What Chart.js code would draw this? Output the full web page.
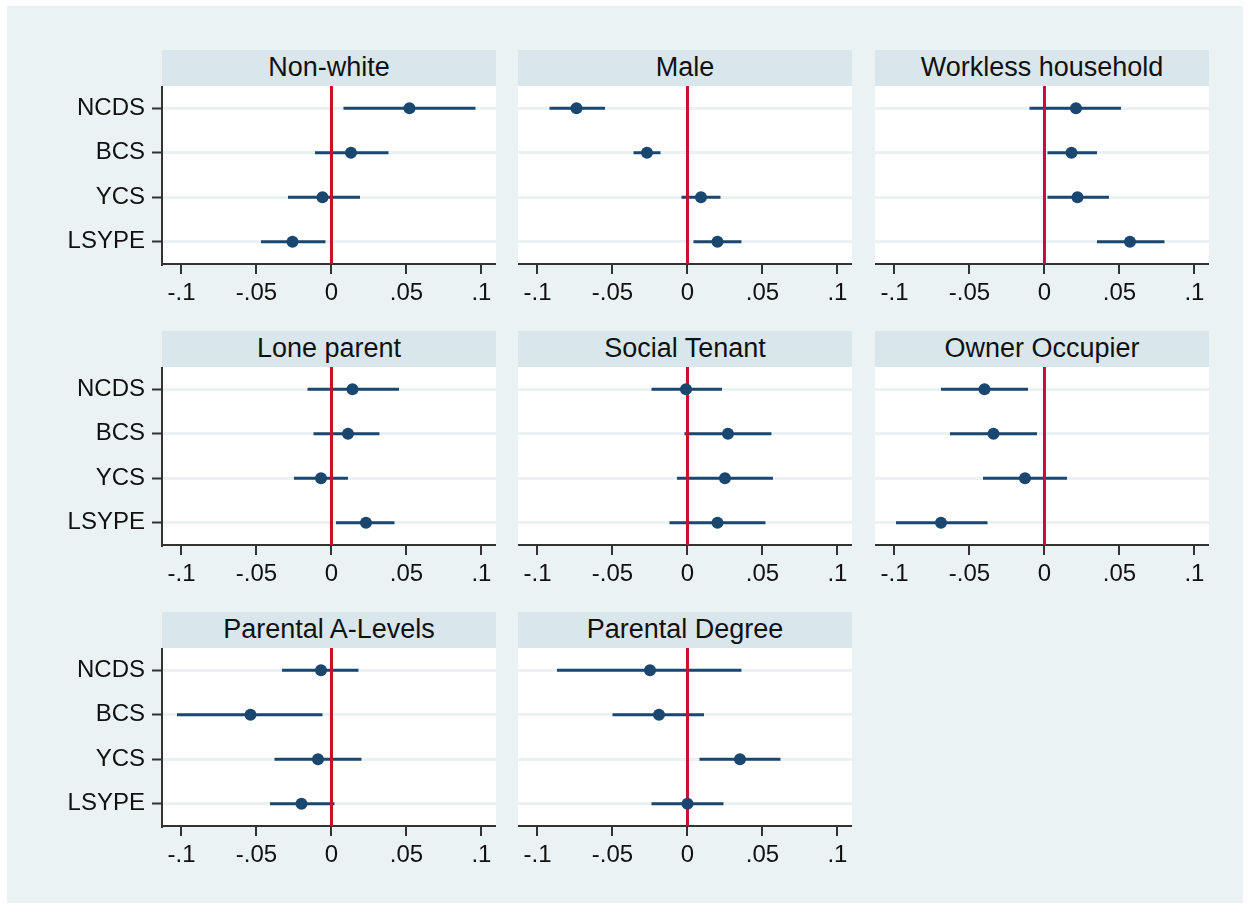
<!DOCTYPE html>
<html><head><meta charset="utf-8">
<script src="https://cdn.jsdelivr.net/npm/chart.js@4.4.0/dist/chart.umd.min.js"></script>
<style>
html,body{margin:0;padding:0;background:#fff;}
#bg{position:absolute;left:7px;top:6px;width:1236px;height:897px;background:#EAF2F3;}
.strip{position:absolute;height:36px;background:#D9E6EB;font:27px "Liberation Sans",Arial,sans-serif;color:#111;text-align:center;line-height:34px;white-space:nowrap;}
canvas{position:absolute;}
</style></head><body>
<div id="bg"></div>
<script>
const cohorts = ['NCDS','BCS','YCS','LSYPE'];
const panelTitles = ['Non-white','Male','Workless household','Lone parent','Social Tenant','Owner Occupier','Parental A-Levels','Parental Degree'];
const xTickValues = [-0.1,-0.05,0,0.05,0.1];
const xTickLabels = ['-.1','-.05','0','.05','.1'];

const nonWhiteEst = [0.052, 0.013, -0.006, -0.026];
const nonWhiteLo  = [0.008, -0.011, -0.029, -0.047];
const nonWhiteHi  = [0.096, 0.038, 0.019, -0.004];
const maleEst = [-0.074, -0.027, 0.009, 0.020];
const maleLo  = [-0.092, -0.036, -0.004, 0.004];
const maleHi  = [-0.055, -0.018, 0.022, 0.036];
const worklessEst = [0.021, 0.018, 0.022, 0.057];
const worklessLo  = [-0.010, 0.002, 0.002, 0.035];
const worklessHi  = [0.051, 0.035, 0.043, 0.080];
const loneEst = [0.014, 0.011, -0.007, 0.023];
const loneLo  = [-0.016, -0.012, -0.025, 0.003];
const loneHi  = [0.045, 0.032, 0.011, 0.042];
const socialEst = [-0.001, 0.027, 0.025, 0.020];
const socialLo  = [-0.024, -0.002, -0.007, -0.012];
const socialHi  = [0.023, 0.056, 0.057, 0.052];
const ownerEst = [-0.040, -0.034, -0.013, -0.069];
const ownerLo  = [-0.069, -0.063, -0.041, -0.099];
const ownerHi  = [-0.011, -0.005, 0.015, -0.038];
const aLevelEst = [-0.007, -0.054, -0.009, -0.020];
const aLevelLo  = [-0.033, -0.103, -0.038, -0.041];
const aLevelHi  = [0.018, -0.006, 0.020, 0.002];
const degreeEst = [-0.025, -0.019, 0.035, 0.000];
const degreeLo  = [-0.087, -0.050, 0.008, -0.024];
const degreeHi  = [0.036, 0.011, 0.062, 0.024];

const panelEst = [nonWhiteEst, maleEst, worklessEst, loneEst, socialEst, ownerEst, aLevelEst, degreeEst];
const panelLo  = [nonWhiteLo, maleLo, worklessLo, loneLo, socialLo, ownerLo, aLevelLo, degreeLo];
const panelHi  = [nonWhiteHi, maleHi, worklessHi, loneHi, socialHi, ownerHi, aLevelHi, degreeHi];

const FONT = '"Liberation Sans", Arial, sans-serif';
const NAVY = '#1A476F', RED = '#C8102E', GRID = '#EAF2F3', AXIS = '#333333';
const colLeft = [162, 518, 875], rowTop = [50, 331, 612];
const STRIP_H = 36, PLOT_W = 334, PLOT_H = 178, XAX_H = 50, YAX_W = 150;
const X_MIN = -0.113, X_MAX = 0.1097;

const whiteArea = { id: 'whiteArea', beforeDraw(c) {
  const a = c.chartArea, ctx = c.ctx; ctx.save(); ctx.fillStyle = '#fff';
  ctx.fillRect(a.left, a.top, a.right - a.left, a.bottom - a.top); ctx.restore(); } };

panelTitles.forEach((title, p) => {
  const col = p % 3, row = Math.floor(p / 3);
  const left = colLeft[col], top = rowTop[row];
  const strip = document.createElement('div');
  strip.className = 'strip';
  strip.style.left = left + 'px'; strip.style.top = top + 'px'; strip.style.width = PLOT_W + 'px';
  strip.textContent = title;
  document.body.appendChild(strip);
  const yw = col === 0 ? YAX_W : 0;
  const cv = document.createElement('canvas');
  cv.width = PLOT_W + yw; cv.height = PLOT_H + XAX_H;
  cv.style.left = (left - yw) + 'px'; cv.style.top = (top + STRIP_H) + 'px';
  document.body.appendChild(cv);
  const datasets = [];
  cohorts.forEach((c, i) => {
    datasets.push({ data: [{x: panelLo[p][i], y: i + 1}, {x: panelHi[p][i], y: i + 1}], showLine: true,
      borderColor: NAVY, borderWidth: 3, pointRadius: 0, pointHoverRadius: 0, order: 3, borderCapStyle: 'butt' });
  });
  datasets.push({ data: [{x: 0, y: 0.5}, {x: 0, y: 4.5}], showLine: true, borderColor: RED, borderWidth: 3,
    pointRadius: 0, pointHoverRadius: 0, order: 2 });
  datasets.push({ data: panelEst[p].map((v, i) => ({x: v, y: i + 1})), showLine: false, pointRadius: 6,
    pointHoverRadius: 6, backgroundColor: NAVY, borderWidth: 0, pointStyle: 'circle', order: 1 });
  new Chart(cv, {
    type: 'scatter',
    data: { datasets },
    plugins: [whiteArea],
    options: {
      responsive: false, animation: false, devicePixelRatio: 1, layout: { padding: 0, autoPadding: false },
      events: [],
      plugins: { legend: { display: false }, tooltip: { enabled: false } },
      scales: {
        x: { type: 'linear', min: X_MIN, max: X_MAX,
          afterBuildTicks: s => { s.ticks = xTickValues.map(v => ({ value: v })); },
          afterFit: s => { s.height = XAX_H; s.paddingLeft = 0; s.paddingRight = 0; },
          ticks: { callback: (v, i) => xTickLabels[i], font: { size: 24, family: FONT }, color: '#111',
            padding: 5, maxRotation: 0, autoSkip: false },
          grid: { drawOnChartArea: false, drawTicks: true, tickLength: 10, tickColor: AXIS, tickWidth: 2, lineWidth: 2 },
          border: { display: true, color: AXIS, width: 2 } },
        y: { type: 'linear', min: 0.5, max: 4.5, reverse: true,
          afterBuildTicks: s => { s.ticks = cohorts.map((c, i) => ({ value: i + 1 })); },
          afterFit: s => { s.width = yw; s.paddingTop = 0; s.paddingBottom = 0; },
          ticks: { display: col === 0, callback: (v, i) => cohorts[i], font: { size: 24, family: FONT },
            color: '#111', padding: 7, autoSkip: false },
          grid: { color: GRID, lineWidth: 3, drawTicks: col === 0, tickLength: 10, tickColor: AXIS, tickWidth: 2 },
          border: { display: col === 0, color: AXIS, width: 2 } }
      }
    }
  });
});
</script>
</body></html>
